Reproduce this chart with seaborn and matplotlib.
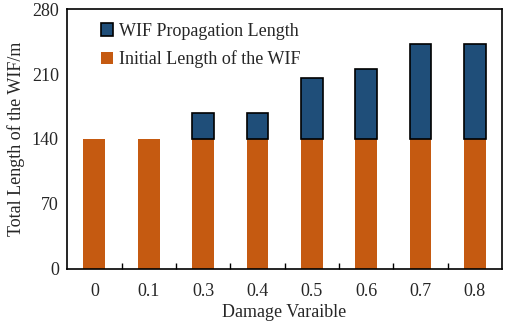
import matplotlib
matplotlib.use("Agg")
import matplotlib.pyplot as plt
from matplotlib.ticker import FixedLocator
import pandas as pd
import seaborn as sns

damage = ["0", "0.1", "0.3", "0.4", "0.5", "0.6", "0.7", "0.8"]
initial_length = [140, 140, 140, 140, 140, 140, 140, 140]
propagation_length = [0, 0, 28, 28, 66, 75, 102, 102]

df = pd.DataFrame({"damage": damage,
                   "initial": initial_length,
                   "propagation": propagation_length})
grown = df[df["propagation"] > 0]

sns.set_style("ticks")
plt.rcParams["font.family"] = ["Liberation Serif", "DejaVu Serif"]

fig = plt.figure(figsize=(5.05, 3.24), dpi=100)
ax = fig.add_axes([0.133, 0.170, 0.861, 0.802])

sns.barplot(data=df, x="damage", y="initial", order=damage, color="#C55A11",
            width=0.4, saturation=1, linewidth=0, label="Initial Length of the WIF", ax=ax)
sns.barplot(data=grown, x="damage", y="propagation", order=damage, color="#1F4E79",
            width=0.4, saturation=1, edgecolor="black", linewidth=1.2,
            bottom=grown["initial"].values, label="WIF Propagation Length", ax=ax)

ax.set_xlim(-0.5, len(damage) - 0.5)
ax.set_ylim(0, 280)
ax.set_yticks([0, 70, 140, 210, 280])
ax.tick_params(axis="y", length=0, labelsize=13, pad=6)
ax.tick_params(axis="x", which="major", length=0, labelsize=13, pad=10)
ax.xaxis.set_minor_locator(FixedLocator([i + 0.5 for i in range(len(damage) - 1)]))
ax.tick_params(axis="x", which="minor", direction="in", length=4, width=1, color="black")
for s in ax.spines.values():
    s.set_visible(True)
    s.set_color("black")
    s.set_linewidth(1.2)

ax.set_xlabel("Damage Varaible", fontsize=13, labelpad=3)
ax.set_ylabel("Total Length of the WIF/m", fontsize=13, labelpad=5)

handles, labels = ax.get_legend_handles_labels()
ax.legend(handles[::-1], labels[::-1], loc="upper left", bbox_to_anchor=(0.04, 1.01),
          frameon=False, fontsize=13, handlelength=0.7, handleheight=0.7,
          handletextpad=0.3, labelspacing=0.6)

fig.savefig("out.png", dpi=100)
